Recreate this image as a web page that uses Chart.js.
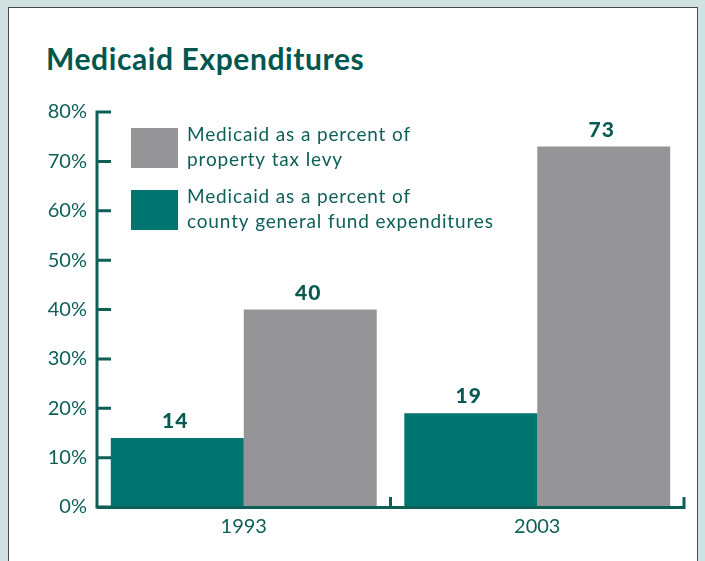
<!DOCTYPE html>
<html>
<head>
<meta charset="utf-8">
<script src="https://cdn.jsdelivr.net/npm/chart.js@4/dist/chart.umd.min.js"></script>
<style>
  html, body { margin: 0; padding: 0; background: #d0e1e1; overflow: hidden; }
  #panel {
    position: absolute; left: 8px; top: 7px; width: 688px; height: 600px;
    background: #ffffff; border: 1px solid #4a4a4a;
  }
  #title {
    position: absolute; left: 46px; top: 40px; margin: 0;
    font: 700 30px "Lato", sans-serif; color: #00574f; letter-spacing: 0.6px;
  }
  canvas { position: absolute; left: 0; top: 0; }
</style>
</head>
<body>
<div id="panel"></div>
<h1 id="title">Medicaid Expenditures</h1>
<canvas id="medicaid" width="705" height="561"></canvas>
<script>
var years = ['1993', '2003'];
var generalFundPct = [14, 19];
var propertyTaxPct = [40, 73];
var yTicks = [0, 10, 20, 30, 40, 50, 60, 70, 80];

var teal = '#007570';
var grey = '#959597';
var ink = '#0d5f58';
var textFont = '"Lato", sans-serif';

// axis lines, inward tick marks, value labels and legend
var decorations = {
    id: 'decorations',
    afterDatasetsDraw: function (chart) {
        var ctx = chart.ctx;
        var x = chart.scales.x, y = chart.scales.y;
        var left = chart.chartArea.left, right = chart.chartArea.right;
        var y0 = y.getPixelForValue(0);
        ctx.save();
        ctx.strokeStyle = ink;
        ctx.lineWidth = 3;
        ctx.lineCap = 'butt';
        ctx.beginPath();
        ctx.moveTo(left, y.getPixelForValue(80) - 1.5);
        ctx.lineTo(left, y0 + 1.5);
        ctx.moveTo(left, y0 + 0.5);
        ctx.lineTo(right + 1.5, y0 + 0.5);
        yTicks.forEach(function (v) {
            var py = y.getPixelForValue(v);
            ctx.moveTo(left, py);
            ctx.lineTo(left + 14, py);
        });
        // small upward marks on the right edge of each category
        var step = x.getPixelForValue(1) - x.getPixelForValue(0);
        years.forEach(function (yr, i) {
            var px = x.getPixelForValue(i) + step / 2;
            ctx.moveTo(px, y0 + 2);
            ctx.lineTo(px, y0 - 10);
        });
        ctx.stroke();

        // value labels over each bar
        ctx.fillStyle = '#0b5a52';
        ctx.font = '900 21px ' + textFont;
        ctx.textAlign = 'center';
        ctx.textBaseline = 'alphabetic';
        ctx.letterSpacing = '1px';
        chart.data.datasets.forEach(function (ds, di) {
            chart.getDatasetMeta(di).data.forEach(function (bar, i) {
                ctx.fillText(String(ds.data[i]), bar.x - 2, bar.y - 10);
            });
        });

        // legend: property tax first, general fund second
        ctx.font = '400 19px ' + textFont;
        ctx.letterSpacing = '0.85px';
        ctx.textAlign = 'left';
        ctx.textBaseline = 'middle';
        var order = [1, 0];
        order.forEach(function (di, row) {
            var ds = chart.data.datasets[di];
            var top = 128 + row * 62;
            ctx.fillStyle = ds.backgroundColor;
            ctx.fillRect(131, top, 47, 40);
            ctx.fillStyle = ink;
            ds.label.forEach(function (line, li) {
                ctx.fillText(line, 187, top + 7 + li * 25);
            });
        });
        ctx.restore();
    }
};

new Chart(document.getElementById('medicaid').getContext('2d'), {
    type: 'bar',
    data: {
        labels: years,
        datasets: [{
            label: ['Medicaid as a percent of', 'county general fund expenditures'],
            data: generalFundPct,
            backgroundColor: teal,
            borderWidth: 0,
        }, {
            label: ['Medicaid as a percent of', 'property tax levy'],
            data: propertyTaxPct,
            backgroundColor: grey,
            borderWidth: 0,
        }],
    },
    options: {
        responsive: false,
        animation: false,
        layout: {
            padding: { left: 0, right: 21, top: 112, bottom: 0 }
        },
        categoryPercentage: 0.906,
        barPercentage: 1.0,
        plugins: {
            legend: { display: false },
            tooltip: { enabled: false },
        },
        scales: {
            x: {
                grid: { display: false },
                border: { display: false },
                ticks: {
                    color: ink,
                    padding: 0,
                    font: { family: textFont, size: 20 },
                },
                afterFit: function (scale) { scale.height = 54; },
            },
            y: {
                min: 0,
                max: 80,
                grid: { display: false },
                border: { display: false },
                ticks: {
                    stepSize: 10,
                    color: ink,
                    padding: 2,
                    font: { family: textFont, size: 20 },
                    callback: function (v) { return v + '%'; },
                },
                afterFit: function (scale) { scale.width = 97; },
            }
        }
    },
    plugins: [decorations]
});
</script>
</body>
</html>
